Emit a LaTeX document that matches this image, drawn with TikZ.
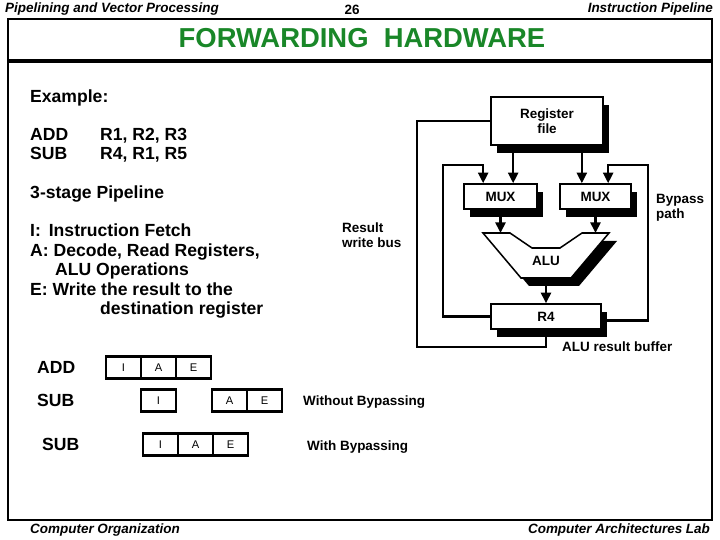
\documentclass[tikz,border=0pt]{standalone}
\usepackage{fontspec}
\setmainfont{Liberation Sans}
\usetikzlibrary{arrows.meta,positioning,shadows}
\definecolor{titlegreen}{RGB}{25,135,40}
\tikzset{
  hwbox/.style={draw,line width=1.3pt,fill=white,align=center,inner sep=1pt,
    font=\fontsize{11.5}{12.8}\selectfont\bfseries,
    drop shadow={shadow xshift=0.19cm,shadow yshift=-0.23cm,fill=black,opacity=1}},
  bus/.style={line width=2pt,-{Triangle[length=9pt,width=8.5pt]}},
  wire/.style={line width=2pt},
  lbl/.style={font=\fontsize{11.5}{12.8}\selectfont\bfseries,align=left,inner sep=0pt},
  bodytext/.style={font=\fontsize{15}{16.6}\selectfont\bfseries,anchor=west,inner sep=0pt,
    text height=2.1ex,text depth=.25ex},
  rowlabel/.style={bodytext},
  stagecell/.style={draw,line width=2pt,outer sep=0pt,minimum width=1.05cm,minimum height=0.66cm,
    inner sep=0pt,font=\fontsize{9.5}{10}\selectfont},
  pagenote/.style={font=\fontsize{11.5}{12}\selectfont\bfseries\itshape,inner sep=0pt}
}

\begin{document}
\begin{tikzpicture}[x=0.03cm,y=-0.03cm]
  \useasboundingbox (0,0) rectangle (720,540);
  % page frame and title
  \draw[line width=0.9pt] (8,19) rectangle (712,520);
  \draw[line width=3.4pt] (8,61) -- (712,61);
  \node[pagenote,anchor=west] (chapter) at (5,9) {Pipelining and Vector Processing};
  \node[font=\fontsize{11.5}{12}\selectfont\bfseries] (pageno) at (352,10) {26};
  \node[pagenote,anchor=east] (section) at (713,9) {Instruction Pipeline};
  \node[font=\fontsize{23.4}{26}\selectfont\bfseries,text=titlegreen] (title) at (362,38) {FORWARDING\ \ HARDWARE};
  \node[pagenote] (course) at (105,530) {Computer Organization};
  \node[pagenote] (lab) at (619,530) {Computer Architectures Lab};

  % example text
  \node[bodytext] (example) at (30,97) {Example:};
  \node[bodytext] (addop) at (30,135) {ADD};
  \node[bodytext] (addargs) at (100,135) {R1, R2, R3};
  \node[bodytext] (subop) at (30,154) {SUB};
  \node[bodytext] (subargs) at (100,154) {R4, R1, R5};
  \node[bodytext] (stages) at (30,193) {3-stage Pipeline};
  \node[bodytext] (stI) at (30,231) {I:\hspace{.45em}Instruction Fetch};
  \node[bodytext] (stA) at (30,251) {A: Decode, Read Registers,};
  \node[bodytext] (stA2) at (55,270) {ALU Operations};
  \node[bodytext] (stE) at (30,290) {E: Write the result to the};
  \node[bodytext] (stE2) at (100,309) {destination register};

  % forwarding hardware
  \node[hwbox,minimum width=3.36cm,minimum height=1.44cm] (regfile) at (547,121) {Register\\file};
  \node[hwbox,minimum width=2.19cm,minimum height=0.75cm] (muxL) at (500.5,196.5) {MUX};
  \node[hwbox,minimum width=2.13cm,minimum height=0.75cm] (muxR) at (595.5,196.5) {MUX};
  \node[hwbox,minimum width=3.3cm,minimum height=0.75cm] (r4) at (546,316.5) {R4};
  \fill[shift={(8,8)}] (483,233) -- (510,233) -- (532,248) -- (560,248) -- (582,233) -- (609,233)
    -- (571,278) -- (521,278) -- cycle;
  \filldraw[fill=white,line width=1.3pt] (483,233) -- (510,233) -- (532,248) -- (560,248) -- (582,233)
    -- (609,233) -- (571,278) -- (521,278) -- cycle;
  \node[lbl] (alu) at (546,261) {ALU};
  \coordinate (alu-inL) at (500.5,233);
  \coordinate (alu-inR) at (595.5,233);
  \coordinate (alu-out) at (546,278);
  \coordinate (muxL-a) at ([xshift=-0.52cm]muxL.north);
  \coordinate (muxL-b) at ([xshift=0.38cm]muxL.north);
  \coordinate (muxR-a) at ([xshift=-0.41cm]muxR.north);
  \coordinate (muxR-b) at ([xshift=0.38cm]muxR.north);
  \coordinate (bypL) at (443,165);
  \coordinate (bypR) at (648,165);
  \coordinate (wbL) at (417,347);

  \draw[bus] (regfile.south -| muxL-b) -- (muxL-b);
  \draw[bus] (regfile.south -| muxR-a) -- (muxR-a);
  \draw[bus] (muxL) -- (alu-inL);
  \draw[bus] (muxR) -- (alu-inR);
  \draw[bus] (alu-out) -- (r4.north);
  \draw[bus] (r4.west) -| (bypL) -| (muxL-a);
  \draw[bus] ([yshift=-0.12cm]r4.east) -| (bypR) -| (muxR-b);
  \draw[wire] (r4.south) |- (wbL) |- (regfile.west);

  \node[lbl,anchor=west] (wbus) at (342,235.5) {Result\\write bus};
  \node[lbl,anchor=west] (bypass) at (656,207.5) {Bypass\\path};
  \node[lbl,anchor=west] (buffer) at (562,347) {ALU result buffer};

  % pipeline timing
  \node[rowlabel] (rowadd) at (37,368) {ADD};
  \node[rowlabel] (rowsub) at (37,401) {SUB};
  \node[rowlabel] (rowsubb) at (42,445) {SUB};
  \node[stagecell] (addI) at (123.5,367.5) {I};
  \node[stagecell,right=0pt of addI] (addA) {A};
  \node[stagecell,right=0pt of addA] (addE) {E};
  \node[stagecell] (subI) at (158.5,400.5) {I};
  \node[stagecell] (subA) at (229.5,400.5) {A};
  \node[stagecell,right=0pt of subA] (subE) {E};
  \node[stagecell] (bypI) at (160.5,444.5) {I};
  \node[stagecell,right=0pt of bypI] (bypA) {A};
  \node[stagecell,right=0pt of bypA] (bypE) {E};
  \node[lbl,anchor=west] (nobyp) at (303,402) {Without Bypassing};
  \node[lbl,anchor=west] (withbyp) at (307,447) {With Bypassing};
\end{tikzpicture}
\end{document}
